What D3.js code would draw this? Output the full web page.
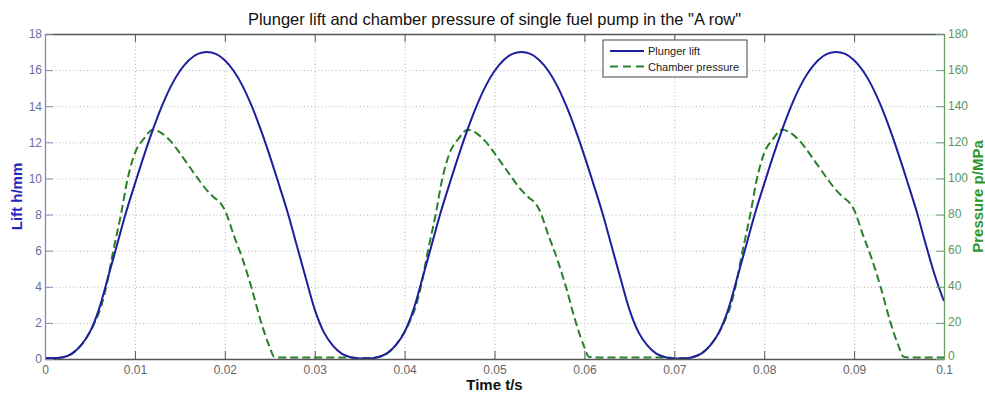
<!DOCTYPE html>
<html lang="en">
  <head>
    <meta charset="utf-8" />
    <title>Plunger lift and chamber pressure</title>
    <style>
      body {
        margin: 0;
        background: #fff;
        font-family: 'Liberation Sans', Arial, sans-serif;
      }
      .grid line {
        stroke: #b4b4b4;
        stroke-dasharray: 1, 2.5;
      }
      .grid path {
        display: none;
      }
    </style>
    <script src="https://d3js.org/d3.v7.min.js"></script>
  </head>

  <body>
    <svg width="985" height="394"></svg>

    <script>
      // tick values
      const timeTicks = [0, 0.01, 0.02, 0.03, 0.04, 0.05, 0.06, 0.07, 0.08, 0.09, 0.1];
      const liftTicks = [0, 2, 4, 6, 8, 10, 12, 14, 16, 18];
      const pressureTicks = [0, 20, 40, 60, 80, 100, 120, 140, 160, 180];

      // plunger lift (mm), sampled every 1 ms from 0 to 0.1 s
      const lift = [
        0.05, 0.05, 0.1, 0.3, 0.75, 1.5, 2.75, 4.5, 6.3, 8.1,
        9.7, 11.25, 12.7, 14.0, 15.1, 15.95, 16.55, 16.9, 17.0, 16.9,
        16.55, 15.95, 15.1, 14.0, 12.7, 11.25, 9.7, 8.1, 6.3, 4.5,
        2.75, 1.5, 0.75, 0.3, 0.1, 0.03, 0.03, 0.1, 0.3, 0.75,
        1.5, 2.75, 4.5, 6.3, 8.1, 9.7, 11.25, 12.7, 14.0, 15.1,
        15.95, 16.55, 16.9, 17.0, 16.9, 16.55, 15.95, 15.1, 14.0, 12.7,
        11.25, 9.7, 8.1, 6.3, 4.5, 2.75, 1.5, 0.75, 0.3, 0.1,
        0.03, 0.03, 0.1, 0.3, 0.75, 1.5, 2.75, 4.5, 6.3, 8.1,
        9.7, 11.25, 12.7, 14.0, 15.1, 15.95, 16.55, 16.9, 17.0, 16.9,
        16.55, 15.95, 15.1, 14.0, 12.7, 11.25, 9.7, 8.1, 6.3, 4.6,
        3.2,
      ];
      const liftTime = d3.range(lift.length).map((i) => i / 1000);

      // chamber pressure (MPa)
      const pressureTime = [
        0, 0.001, 0.002, 0.003, 0.004, 0.005, 0.0056, 0.0063, 0.00685, 0.0076,
        0.00845, 0.0092, 0.01, 0.011, 0.012, 0.013, 0.014, 0.015, 0.016, 0.017,
        0.018, 0.0188, 0.0195, 0.02, 0.021, 0.022, 0.023, 0.024, 0.025, 0.0255,
        0.026, 0.034,
        0.035, 0.036, 0.037, 0.038, 0.039, 0.04, 0.0406, 0.0413, 0.04185, 0.0426,
        0.04345, 0.0442, 0.045, 0.046, 0.047, 0.048, 0.049, 0.05, 0.051, 0.052,
        0.053, 0.0538, 0.0545, 0.055, 0.056, 0.057, 0.058, 0.059, 0.06, 0.0605,
        0.061, 0.069,
        0.07, 0.071, 0.072, 0.073, 0.074, 0.075, 0.0756, 0.0763, 0.07685, 0.0776,
        0.07845, 0.0792, 0.08, 0.081, 0.082, 0.083, 0.084, 0.085, 0.086, 0.087,
        0.088, 0.0888, 0.0895, 0.09, 0.091, 0.092, 0.093, 0.094, 0.095, 0.0955,
        0.096, 0.1,
      ];
      const pressure = [
        0.5, 0.5, 1.0, 3.0, 7.5, 15, 21, 30, 41, 60,
        80, 100, 114, 122, 127, 125, 120.5, 114, 107, 100,
        93.5, 89.5, 86.5, 82.5, 68.5, 55, 39, 21, 6.5, 1.2,
        0.9, 0.9,
        0.5, 0.5, 1.0, 3.0, 7.5, 15, 21, 30, 41, 60,
        80, 100, 114, 122, 127, 125, 120.5, 114, 107, 100,
        93.5, 89.5, 86.5, 82.5, 68.5, 55, 39, 21, 6.5, 1.2,
        0.9, 0.9,
        0.5, 0.5, 1.0, 3.0, 7.5, 15, 21, 30, 41, 60,
        80, 100, 114, 122, 127, 125, 120.5, 114, 107, 100,
        93.5, 89.5, 86.5, 82.5, 68.5, 55, 39, 21, 6.5, 1.2,
        0.9, 0.9,
      ];

      const seriesNames = ['Plunger lift', 'Chamber pressure'];
      const blue = '#1e1ea0';
      const green = '#2a7f2a';

      const svg = d3.select('svg');
      const m = { left: 45, right: 944, top: 34, bottom: 359 };
      const w = m.right - m.left;
      const h = m.bottom - m.top;

      const x = d3.scaleLinear().domain([0, 0.1]).range([m.left, m.right]);
      const yL = d3.scaleLinear().domain([0, 18]).range([m.bottom, m.top]);
      const yR = d3.scaleLinear().domain([0, 180]).range([m.bottom, m.top]);

      // grid
      svg
        .append('g')
        .attr('class', 'grid')
        .attr('transform', `translate(0,${m.bottom})`)
        .call(d3.axisBottom(x).tickValues(timeTicks.slice(1, -1)).tickSize(-h).tickFormat(''));
      svg
        .append('g')
        .attr('class', 'grid')
        .attr('transform', `translate(${m.left},0)`)
        .call(d3.axisLeft(yL).tickValues(liftTicks.slice(1, -1)).tickSize(-w).tickFormat(''));

      // lines
      const liftLine = d3
        .line()
        .x((d, i) => x(liftTime[i]))
        .y((d) => yL(d))
        .curve(d3.curveMonotoneX);
      const pressLine = d3
        .line()
        .x((d, i) => x(pressureTime[i]))
        .y((d) => yR(d))
        .curve(d3.curveMonotoneX);

      const plot = svg.append('g');
      plot
        .append('path')
        .attr('d', pressLine(pressure))
        .attr('fill', 'none')
        .attr('stroke', green)
        .attr('stroke-width', 2)
        .attr('stroke-dasharray', '8,4');
      plot
        .append('path')
        .attr('d', liftLine(lift))
        .attr('fill', 'none')
        .attr('stroke', blue)
        .attr('stroke-width', 2);

      // axes (ticks inside, MATLAB style)
      const styleAxis = (g, lineColor, textColor) => {
        g.select('.domain').attr('stroke', lineColor).attr('stroke-width', 1.3);
        g.selectAll('.tick line').attr('stroke', lineColor);
        g.selectAll('text')
          .attr('fill', textColor)
          .style('font-size', '12px')
          .style('font-family', "'Liberation Sans', Arial, sans-serif");
      };

      svg
        .append('g')
        .attr('transform', `translate(0,${m.top})`)
        .call(d3.axisTop(x).tickValues(timeTicks).tickSize(-8).tickSizeOuter(0).tickFormat(''))
        .call((g) => styleAxis(g, '#555', '#555'));
      svg
        .append('g')
        .attr('transform', `translate(0,${m.bottom})`)
        .call(
          d3.axisBottom(x).tickValues(timeTicks).tickSize(-8).tickSizeOuter(0).tickPadding(6)
            .tickFormat((d) => String(d)),
        )
        .call((g) => styleAxis(g, '#555', '#666'));
      svg
        .append('g')
        .attr('transform', `translate(${m.left},0)`)
        .call(d3.axisLeft(yL).tickValues(liftTicks).tickSize(-8).tickSizeOuter(0).tickPadding(3))
        .call((g) => styleAxis(g, '#8585b8', '#6c6ca0'));
      svg
        .append('g')
        .attr('transform', `translate(${m.right},0)`)
        .call(d3.axisRight(yR).tickValues(pressureTicks).tickSize(-8).tickSizeOuter(0).tickPadding(4))
        .call((g) => styleAxis(g, '#6a9f6a', '#5c965c'))
        .call((g) => g.selectAll('.tick text').attr('dy', (d) => (d === 0 ? '0em' : '0.25em')));

      // title and labels
      svg
        .append('text')
        .attr('x', (m.left + m.right) / 2)
        .attr('y', 25)
        .attr('text-anchor', 'middle')
        .style('font-size', '16.5px')
        .attr('fill', '#111')
        .text('Plunger lift and chamber pressure of single fuel pump in the "A row"');
      svg
        .append('text')
        .attr('x', (m.left + m.right) / 2)
        .attr('y', 390)
        .attr('text-anchor', 'middle')
        .style('font-size', '15px')
        .style('font-weight', 'bold')
        .attr('fill', '#111')
        .text('Time t/s');
      svg
        .append('text')
        .attr('transform', `translate(22,${(m.top + m.bottom) / 2}) rotate(-90)`)
        .attr('text-anchor', 'middle')
        .style('font-size', '15px')
        .style('font-weight', 'bold')
        .attr('fill', '#2626b8')
        .text('Lift h/mm');
      svg
        .append('text')
        .attr('transform', `translate(983,${(m.top + m.bottom) / 2}) rotate(-90)`)
        .attr('text-anchor', 'middle')
        .style('font-size', '15px')
        .style('font-weight', 'bold')
        .attr('fill', '#2e962e')
        .text('Pressure p/MPa');

      // legend
      const lg = svg.append('g').attr('transform', 'translate(603,40)');
      lg.append('rect')
        .attr('width', 144)
        .attr('height', 37)
        .attr('fill', '#fff')
        .attr('stroke', '#444')
        .attr('stroke-width', 1);
      const rows = [
        { name: seriesNames[0], color: blue, dash: null, y: 11 },
        { name: seriesNames[1], color: green, dash: '8,5', y: 26.5 },
      ];
      rows.forEach((r) => {
        lg.append('line')
          .attr('x1', 7)
          .attr('x2', 41)
          .attr('y1', r.y)
          .attr('y2', r.y)
          .attr('stroke', r.color)
          .attr('stroke-width', 2)
          .attr('stroke-dasharray', r.dash);
        lg.append('text')
          .attr('x', 45)
          .attr('y', r.y + 4)
          .style('font-size', '11px')
          .attr('fill', '#222')
          .text(r.name);
      });
    </script>
  </body>
</html>
